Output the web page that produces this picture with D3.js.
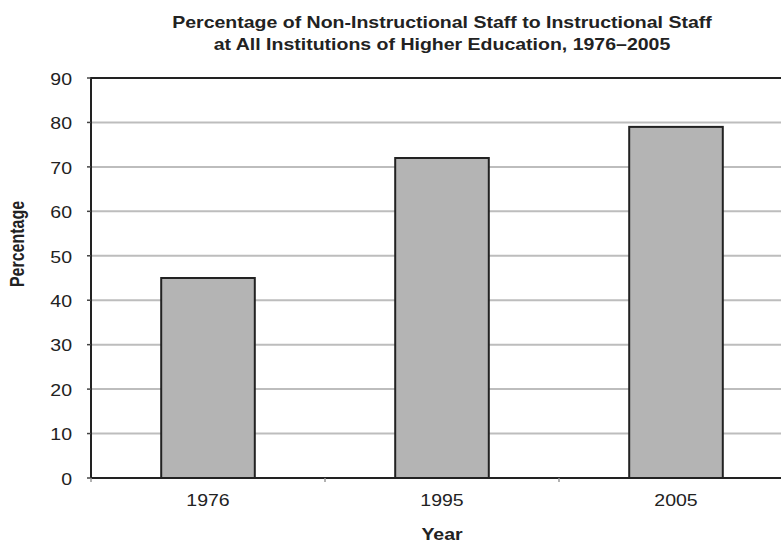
<!DOCTYPE html>
<html>
<head>
<meta charset="utf-8">
<script src="https://cdn.jsdelivr.net/npm/d3@7"></script>
<style>
  body { margin: 0; background: #fff; }
  text { font-family: "Liberation Sans", Arial, sans-serif; fill: #222; }
</style>
</head>
<body>
<div id="chart"></div>
<script>
var years = ["1976", "1995", "2005"];
var percentages = [45, 72, 79];
var yTicks = [0, 10, 20, 30, 40, 50, 60, 70, 80, 90];
var titleLines = ["Percentage of Non-Instructional Staff to Instructional Staff",
                  "at All Institutions of Higher Education, 1976\u20132005"];

var width = 781, height = 543;
var margin = {top: 78, left: 91, bottom: 65};
var plotRight = 793;   // the frame runs past the right edge of the picture
var stretch = 1.22;    // the reference is stretched horizontally

var svg = d3.select("#chart").append("svg")
    .attr("width", width)
    .attr("height", height);

var x = d3.scaleBand()
    .domain(years)
    .range([margin.left, plotRight])
    .paddingInner(0.6)
    .paddingOuter(0.3);

var y = d3.scaleLinear()
    .domain([0, 90])
    .range([height - margin.bottom, margin.top]);

function sx(tx, ty) {
  return "translate(" + tx + "," + ty + ") scale(" + stretch + ",1)";
}

// gridlines
svg.append("g")
  .selectAll("line")
  .data(yTicks.filter(function(d) { return d > 0 && d < 90; }))
  .enter().append("line")
    .attr("x1", margin.left)
    .attr("x2", plotRight)
    .attr("y1", function(d) { return y(d); })
    .attr("y2", function(d) { return y(d); })
    .attr("stroke", "#bdbdbd")
    .attr("stroke-width", 2);

// bars
svg.append("g")
  .selectAll("rect")
  .data(years)
  .enter().append("rect")
    .attr("x", function(d) { return x(d); })
    .attr("y", function(d, i) { return y(percentages[i]); })
    .attr("width", x.bandwidth())
    .attr("height", function(d, i) { return y(0) - y(percentages[i]); })
    .attr("fill", "#b4b4b4")
    .attr("stroke", "#222")
    .attr("stroke-width", 2);

// frame: top, left, bottom
svg.append("line")
    .attr("x1", margin.left).attr("x2", plotRight)
    .attr("y1", y(90)).attr("y2", y(90))
    .attr("stroke", "#222").attr("stroke-width", 2);
svg.append("line")
    .attr("x1", margin.left).attr("x2", margin.left)
    .attr("y1", y(90) - 1).attr("y2", y(0) + 1)
    .attr("stroke", "#222").attr("stroke-width", 2);
svg.append("line")
    .attr("x1", margin.left).attr("x2", plotRight)
    .attr("y1", y(0)).attr("y2", y(0))
    .attr("stroke", "#222").attr("stroke-width", 2);

// y ticks and labels
var yAxis = svg.append("g");
yAxis.selectAll("line")
  .data(yTicks)
  .enter().append("line")
    .attr("x1", margin.left - 4)
    .attr("x2", margin.left)
    .attr("y1", function(d) { return y(d); })
    .attr("y2", function(d) { return y(d); })
    .attr("stroke", "#444")
    .attr("stroke-width", 1.5);
yAxis.selectAll("text")
  .data(yTicks)
  .enter().append("text")
    .attr("transform", function(d) { return sx(72, y(d)); })
    .attr("dy", "0.42em")
    .attr("text-anchor", "end")
    .attr("font-size", 16)
    .text(function(d) { return d; });

// x boundary ticks and labels
var step = x.step();
svg.append("g")
  .selectAll("line")
  .data(years)
  .enter().append("line")
    .attr("x1", function(d) { return x(d) - step * x.paddingInner() / 2; })
    .attr("x2", function(d) { return x(d) - step * x.paddingInner() / 2; })
    .attr("y1", y(0))
    .attr("y2", y(0) + 4)
    .attr("stroke", "#999")
    .attr("stroke-width", 1.5);
svg.append("g")
  .selectAll("text")
  .data(years)
  .enter().append("text")
    .attr("transform", function(d) { return sx(x(d) + x.bandwidth() / 2, 506); })
    .attr("text-anchor", "middle")
    .attr("font-size", 16)
    .text(function(d) { return d; });

// axis titles
svg.append("text")
    .attr("transform", sx((margin.left + plotRight) / 2, 540))
    .attr("text-anchor", "middle")
    .attr("font-size", 16)
    .attr("font-weight", "bold")
    .text("Year");

svg.append("text")
    .attr("transform", sx(24, 244) + " rotate(-90)")
    .attr("text-anchor", "middle")
    .attr("font-size", 16)
    .attr("font-weight", "bold")
    .text("Percentage");

// chart title
svg.append("g")
  .selectAll("text")
  .data(titleLines)
  .enter().append("text")
    .attr("transform", function(d, i) { return sx((margin.left + plotRight) / 2, 27.5 + i * 22.5); })
    .attr("text-anchor", "middle")
    .attr("font-size", 16)
    .attr("font-weight", "bold")
    .text(function(d) { return d; });
</script>
</body>
</html>
